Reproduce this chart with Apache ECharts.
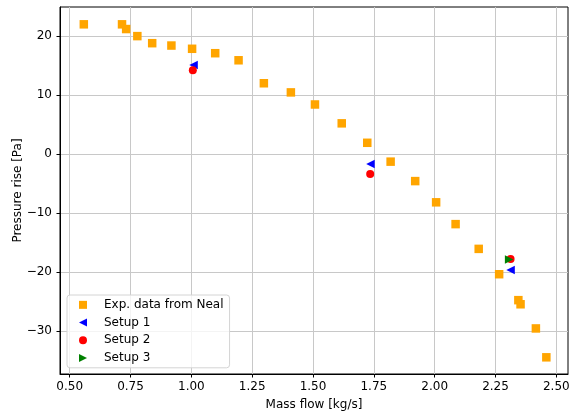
<!DOCTYPE html>
<html>
<head>
<meta charset="utf-8">
<script src="https://cdn.jsdelivr.net/npm/echarts@6.0.0/dist/echarts.min.js"></script>
<style>
  html, body { margin: 0; padding: 0; background: #fff; }
  #chart { width: 569px; height: 415px; }
</style>
</head>
<body>
<div id="chart"></div>
<script>
// data: [mass flow kg/s, pressure rise Pa]
var nealData = [
    [0.558, 22.0], [0.715, 22.0], [0.732, 21.2], [0.778, 20.0], [0.839, 18.8],
    [0.918, 18.4], [1.003, 17.85], [1.098, 17.1], [1.194, 15.9], [1.298, 12.0],
    [1.409, 10.45], [1.508, 8.4], [1.618, 5.2], [1.723, 1.9], [1.819, -1.3],
    [1.920, -4.6], [2.006, -8.2], [2.086, -11.9], [2.181, -16.1], [2.265, -20.4],
    [2.344, -24.8], [2.353, -25.5], [2.416, -29.6], [2.459, -34.5]
];
var setup1 = [[1.009, 15.1], [1.736, -1.7], [2.312, -19.7]];
var setup2 = [[1.006, 14.2], [1.735, -3.4], [2.312, -17.8]];
var setup3 = [[2.306, -17.9]];

var xTicks = [0.5, 0.75, 1.0, 1.25, 1.5, 1.75, 2.0, 2.25, 2.5];
var yTicks = [-30, -20, -10, 0, 10, 20];

var font = 'DejaVu Sans';
var gridColor = '#c8c8c8';

// legend icons (triangles pointing left / right)
var triLeft = 'path://M0,5 L10,0 L10,10 Z';
var triRight = 'path://M10,5 L0,0 L0,10 Z';

var chart = echarts.init(document.getElementById('chart'));

var option = {
    animation: false,
    backgroundColor: '#fff',
    textStyle: { fontFamily: font },
    grid: {
        left: 60,
        top: 7,
        width: 508,
        height: 367,
        show: true,
        borderColor: '#000',
        borderWidth: 1,
        containLabel: false,
        outerBoundsMode: 'none'
    },
    legend: {
        orient: 'vertical',
        left: 67,
        top: 295,
        padding: [1, 6, 1, 12],
        itemWidth: 8,
        itemHeight: 8,
        itemGap: 0,
        backgroundColor: 'rgba(255,255,255,0.8)',
        borderColor: '#d4d4d4',
        borderWidth: 1,
        borderRadius: 3,
        textStyle: { fontFamily: font, fontSize: 12, color: '#000', lineHeight: 17.7, padding: [0, 0, 0, 12] },
        data: [
            { name: 'Exp. data from Neal', icon: 'rect' },
            { name: 'Setup 1', icon: triLeft },
            { name: 'Setup 2', icon: 'circle' },
            { name: 'Setup 3', icon: triRight }
        ]
    },
    xAxis: {
        type: 'value',
        min: 0.4601,
        max: 2.548,
        name: 'Mass flow [kg/s]',
        nameLocation: 'middle',
        nameGap: 25,
        nameMoveOverlap: false,
        nameTextStyle: { fontFamily: font, fontSize: 12, color: '#000' },
        axisLine: { show: true, onZero: false, lineStyle: { color: '#000', width: 1 } },
        axisTick: { show: true, length: 3.5, lineStyle: { color: '#000' }, customValues: xTicks },
        axisLabel: {
            fontFamily: font, fontSize: 12, color: '#000', margin: 7,
            customValues: xTicks,
            formatter: function (v) { return v.toFixed(2); }
        },
        splitLine: { show: true, lineStyle: { color: gridColor, width: 1 } }
    },
    yAxis: {
        type: 'value',
        min: -37.33,
        max: 24.94,
        name: 'Pressure rise [Pa]',
        nameLocation: 'middle',
        nameRotate: 90,
        nameGap: 36,
        nameMoveOverlap: false,
        nameTextStyle: { fontFamily: font, fontSize: 12, color: '#000' },
        axisLine: { show: true, onZero: false, lineStyle: { color: '#000', width: 1 } },
        axisTick: { show: true, length: 3.5, lineStyle: { color: '#000' }, customValues: yTicks },
        axisLabel: {
            fontFamily: font, fontSize: 12, color: '#000', margin: 8,
            customValues: yTicks,
            formatter: function (v) { return String(v).replace('-', '\u2212'); }
        },
        splitLine: { show: true, lineStyle: { color: gridColor, width: 1 } }
    },
    series: [
        {
            name: 'Exp. data from Neal',
            type: 'scatter',
            symbol: 'rect',
            symbolSize: 8.5,
            itemStyle: { color: '#ffa500', opacity: 1 },
            data: nealData,
            z: 2
        },
        {
            name: 'Setup 1',
            type: 'scatter',
            symbol: 'triangle',
            symbolRotate: 90,
            symbolSize: 8.5,
            itemStyle: { color: '#0000ff', opacity: 1 },
            data: setup1,
            z: 3
        },
        {
            name: 'Setup 2',
            type: 'scatter',
            symbol: 'circle',
            symbolSize: 8,
            itemStyle: { color: '#ff0000', opacity: 1 },
            data: setup2,
            z: 4
        },
        {
            name: 'Setup 3',
            type: 'scatter',
            symbol: 'triangle',
            symbolRotate: -90,
            symbolSize: 8.5,
            itemStyle: { color: '#008000', opacity: 1 },
            data: setup3,
            z: 5
        }
    ]
};

chart.setOption(option);
</script>
</body>
</html>
